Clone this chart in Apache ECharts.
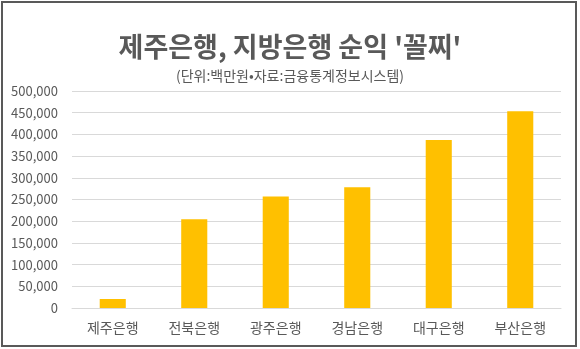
<!DOCTYPE html>
<html><head><meta charset="utf-8">
<script src="https://cdn.jsdelivr.net/npm/echarts@6/dist/echarts.min.js"></script>
<style>html,body{margin:0;padding:0;background:#fff}#c{width:580px;height:349px}</style>
</head><body><div id="c"></div>
<script>
const categories = ['제주은행','전북은행','광주은행','경남은행','대구은행','부산은행'];
const netIncome = [20700, 204500, 256700, 278100, 387100, 453200];
const yTicks = {min: 0, max: 500000, interval: 50000};
const titleText = "제주은행, 지방은행 순익 '꼴찌'";
const subtitleText = '(단위:백만원•자료:금융통계정보시스템)';

const font = '"Noto Sans CJK KR", "Noto Sans", sans-serif';
const chart = echarts.init(document.getElementById('c'));
chart.setOption({
  animation: false,
  backgroundColor: '#fff',
  title: [{
    text: titleText, left: 'center', top: 28,
    textStyle: {fontFamily: font, fontSize: 27, fontWeight: 'bold', color: '#595959'}
  },{
    text: subtitleText, left: 'center', top: 64,
    textStyle: {fontFamily: font, fontSize: 14, fontWeight: 'normal', color: '#595959'}
  }],
  grid: {left: 72, right: 19, top: 91, bottom: 41, containLabel: false},
  xAxis: {
    type: 'category', data: categories,
    axisLine: {lineStyle: {color: '#d9d9d9'}},
    axisTick: {show: false},
    axisLabel: {fontFamily: font, fontSize: 14, color: '#595959', margin: 13}
  },
  yAxis: {
    type: 'value', min: yTicks.min, max: yTicks.max, interval: yTicks.interval,
    axisLine: {show: false}, axisTick: {show: false},
    splitLine: {lineStyle: {color: '#d9d9d9'}},
    axisLabel: {fontFamily: font, fontSize: 13, color: '#595959', margin: 14,
      formatter: v => v.toLocaleString('en-US')}
  },
  series: [{
    type: 'bar', data: netIncome, barWidth: '32%',
    itemStyle: {color: '#FFC000'}
  }],
  graphic: [{
    type: 'rect', shape: {x: 2, y: 2, width: 574, height: 344},
    style: {fill: null, stroke: '#595959', lineWidth: 2}, silent: true
  }]
});
</script></body></html>
